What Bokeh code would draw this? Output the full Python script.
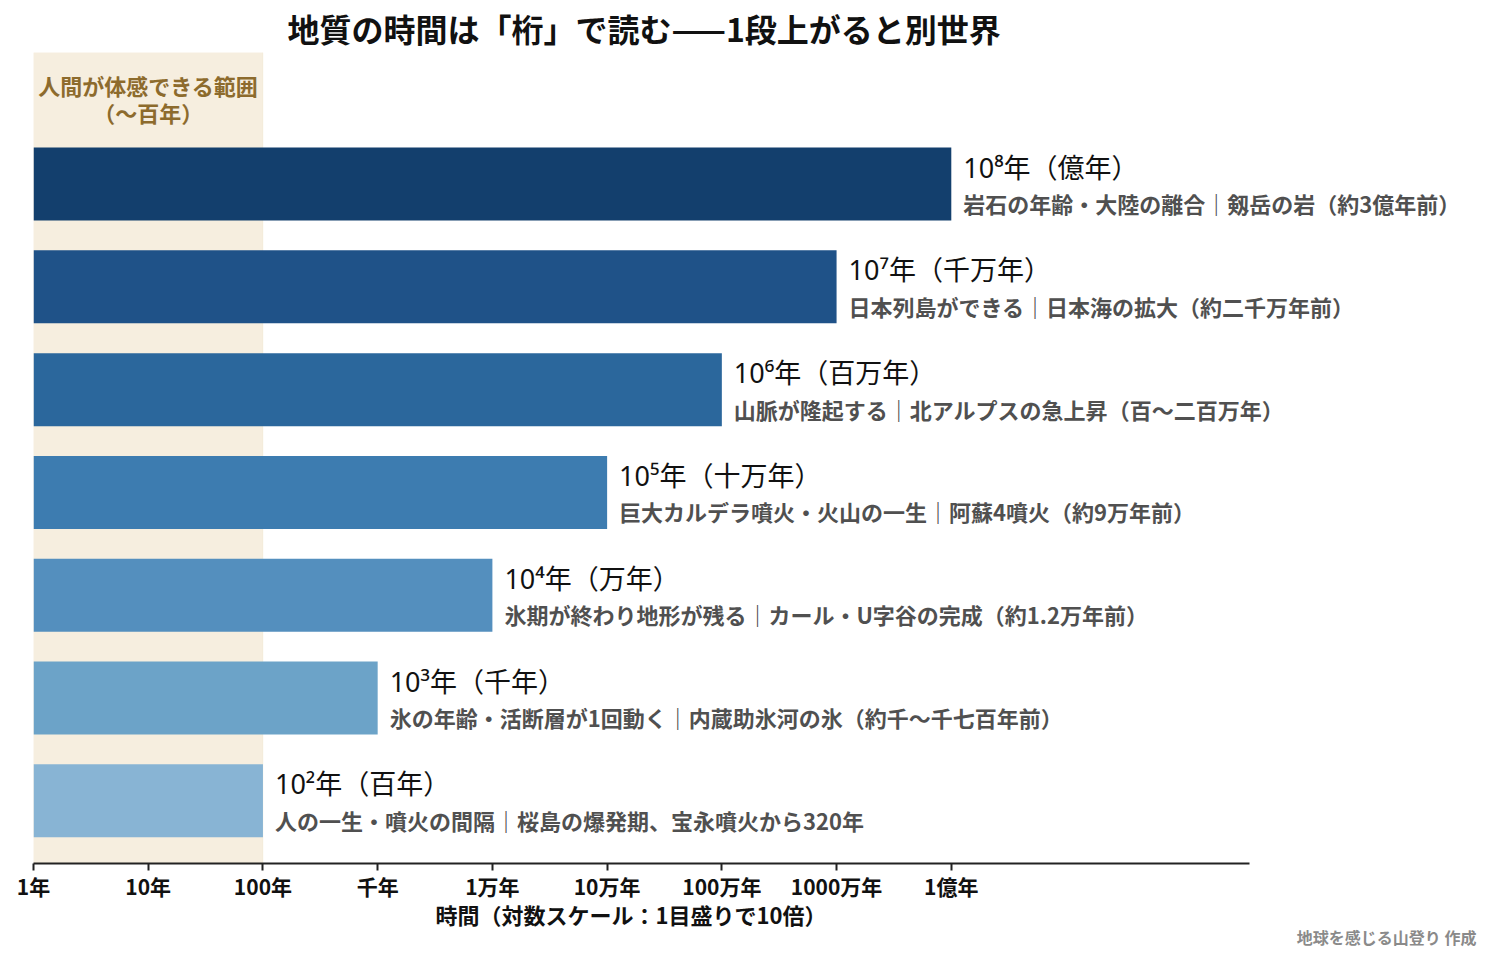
from bokeh.plotting import figure
from bokeh.models import (ColumnDataSource, FixedTicker, CustomJSTickFormatter,
                          BoxAnnotation, LabelSet, Range1d, Title)
from bokeh.core.properties import value
from bokeh.embed import file_html
from bokeh.resources import INLINE

# --- data -------------------------------------------------------------------
years = [1e2, 1e3, 1e4, 1e5, 1e6, 1e7, 1e8]
headlines = [
    "10²年（百年）",
    "10³年（千年）",
    "10⁴年（万年）",
    "10⁵年（十万年）",
    "10⁶年（百万年）",
    "10⁷年（千万年）",
    "10⁸年（億年）",
]
details = [
    "人の一生・噴火の間隔｜桜島の爆発期、宝永噴火から320年",
    "氷の年齢・活断層が1回動く｜内蔵助氷河の氷（約千〜千七百年前）",
    "氷期が終わり地形が残る｜カール・U字谷の完成（約1.2万年前）",
    "巨大カルデラ噴火・火山の一生｜阿蘇4噴火（約9万年前）",
    "山脈が隆起する｜北アルプスの急上昇（百〜二百万年）",
    "日本列島ができる｜日本海の拡大（約二千万年前）",
    "岩石の年齢・大陸の離合｜剱岳の岩（約3億年前）",
]
bar_colors = ["#88b4d4", "#6ca3c8", "#548fbe", "#3d7cb0", "#2b679c", "#1f5288", "#133f6d"]
tick_values = [1, 1e1, 1e2, 1e3, 1e4, 1e5, 1e6, 1e7, 1e8]
tick_labels = ["1年", "10年", "100年", "千年", "1万年", "10万年", "100万年", "1000万年", "1億年"]
human_span = (1, 100)
axis_end = 10 ** 10.6      # where the drawn time axis stops
view_end = 10 ** 12.7      # room on the right for the long labels

JP = "Noto Sans CJK JP"
HEAD_FONT = "Noto Sans, Noto Sans CJK JP"   # Latin face for digits/superscripts

rows = list(range(len(years)))
src = ColumnDataSource(dict(y=rows, right=years, color=bar_colors,
                            head=headlines, detail=details))

p = figure(width=1492, height=961, x_axis_type="log",
           x_range=Range1d(1, view_end), y_range=Range1d(-0.61, 7.28),
           output_backend="svg", toolbar_location=None,
           min_border_left=33, min_border_right=2,
           min_border_top=52, min_border_bottom=98)

# heading, centred over the time axis rather than the whole frame
p.title = Title(text="地質の時間は「桁」で読む——1段上がると別世界",
                align="left", offset=254, text_font=JP, text_font_size="32px",
                text_font_style="bold", text_color="#111111", standoff=4)

p.background_fill_color = "white"
p.border_fill_color = "white"
p.outline_line_color = None
p.grid.visible = False

# band of human-scale time
p.add_layout(BoxAnnotation(left=human_span[0], right=human_span[1],
                           fill_color="#f6eedf", fill_alpha=1.0,
                           line_color="#efe3c8", line_width=1, level="underlay"))

p.hbar(y="y", left=1, right="right", height=0.71, color="color",
       line_color=None, source=src)

# value labels beside each bar
p.add_layout(LabelSet(x="right", y="y", text="head", source=src,
                      x_offset=12, y_offset=17,
                      text_font=value(HEAD_FONT), text_font_size="27px",
                      text_color="#111111", text_baseline="middle",
                      text_align="left"))
p.add_layout(LabelSet(x="right", y="y", text="detail", source=src,
                      x_offset=12, y_offset=-19,
                      text_font=value(JP), text_font_size="22px",
                      text_font_style="bold", text_color="#505050",
                      text_baseline="middle", text_align="left"))

band_label_x = 10 ** 1
p.text(x=[band_label_x, band_label_x], y=[6.96, 6.70],
       text=["人間が体感できる範囲", "（〜百年）"],
       text_font=value(JP), text_font_size="22px", text_font_style="bold",
       text_color="#8d6b2d", text_align="center", text_baseline="middle")

# time axis
p.yaxis.visible = False
ax = p.xaxis[0]
ax.bounds = (1, axis_end)
ax.ticker = FixedTicker(ticks=tick_values, minor_ticks=[])
ax.formatter = CustomJSTickFormatter(
    args=dict(vals=tick_values, labs=tick_labels),
    code="""
    for (let i = 0; i < vals.length; i++) {
        if (Math.abs(Math.log10(tick) - Math.log10(vals[i])) < 1e-6) return labs[i];
    }
    return "";
    """)
ax.major_label_text_font = JP
ax.major_label_text_font_size = "21px"
ax.major_label_text_font_style = "bold"
ax.major_label_text_color = "#111111"
ax.major_label_standoff = 0
ax.axis_line_color = "#222222"
ax.axis_line_width = 2
ax.major_tick_line_color = "#222222"
ax.major_tick_line_width = 2
ax.major_tick_out = 7
ax.major_tick_in = 0

# axis caption, centred under the drawn axis
p.add_layout(Title(text="時間（対数スケール：1目盛りで10倍）", align="left",
                   offset=402, text_font=JP, text_font_size="22px",
                   text_font_style="bold", text_color="#111111", standoff=-16),
             "below")

credit = Title(text="地球を感じる山登り 作成", align="right", offset=14,
               text_font=JP, text_font_size="16px", text_font_style="bold",
               text_color="#8a8a8a", standoff=2)
p.add_layout(credit, "below")

open("out.html", "w").write(file_html(p, INLINE))
